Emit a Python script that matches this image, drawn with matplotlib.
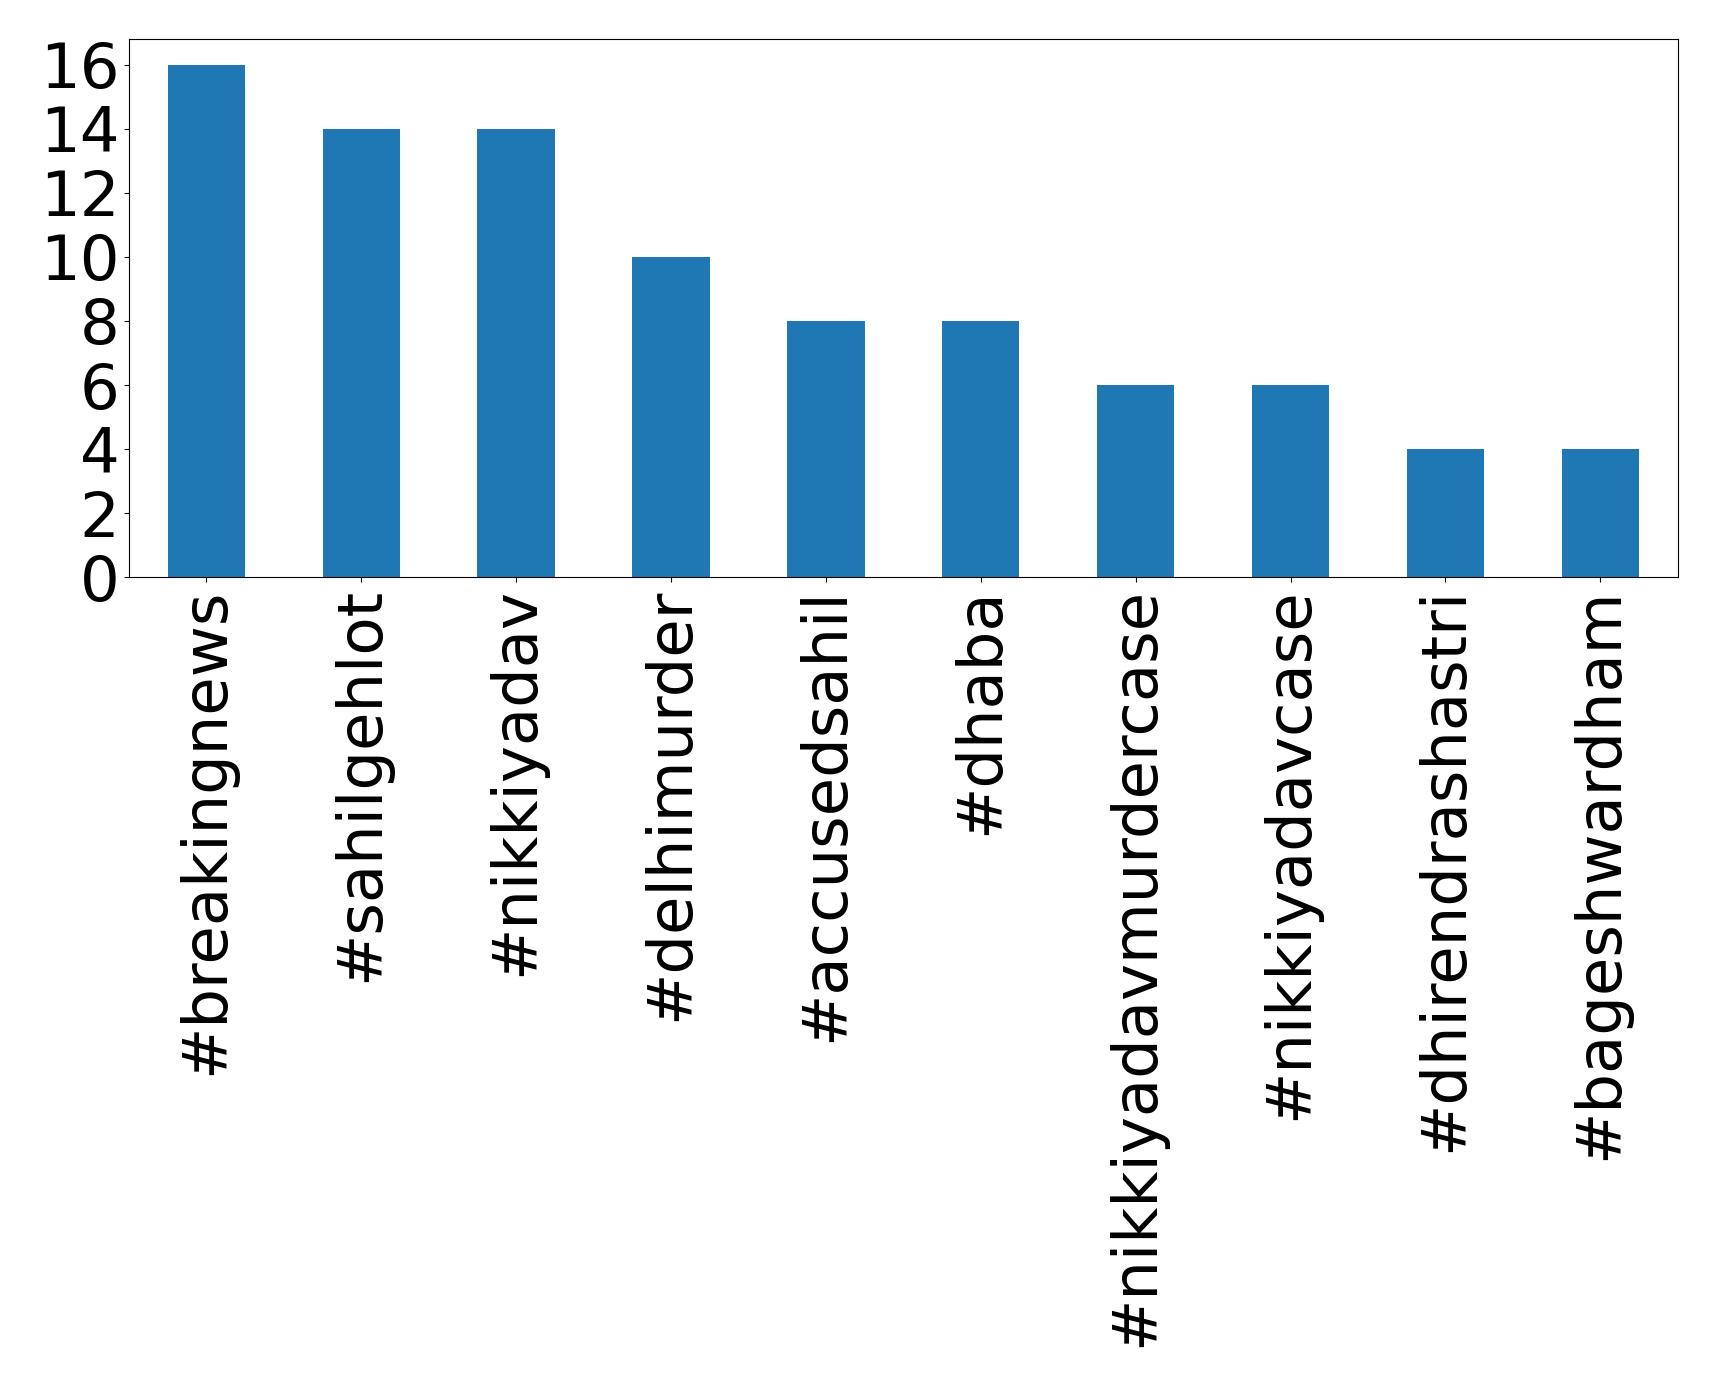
import pandas as pd
import matplotlib.pyplot as plt

hashtags = ["#breakingnews", "#sahilgehlot", "#nikkiyadav", "#delhimurder",
            "#accusedsahil", "#dhaba", "#nikkiyadavmurdercase", "#nikkiyadavcase",
            "#dhirendrashastri", "#bageshwardham"]
counts = [16, 14, 14, 10, 8, 8, 6, 6, 4, 4]

s = pd.Series(counts, index=hashtags)

fig = plt.figure(figsize=(17.19, 13.88), dpi=100)
ax = fig.add_axes([0.075, 0.584, 0.901, 0.388])
s.plot(kind="bar", ax=ax, fontsize=45, color="#1f77b4")
ax.set_ylim(0, 16.8)

fig.savefig("out.png", dpi=100)
